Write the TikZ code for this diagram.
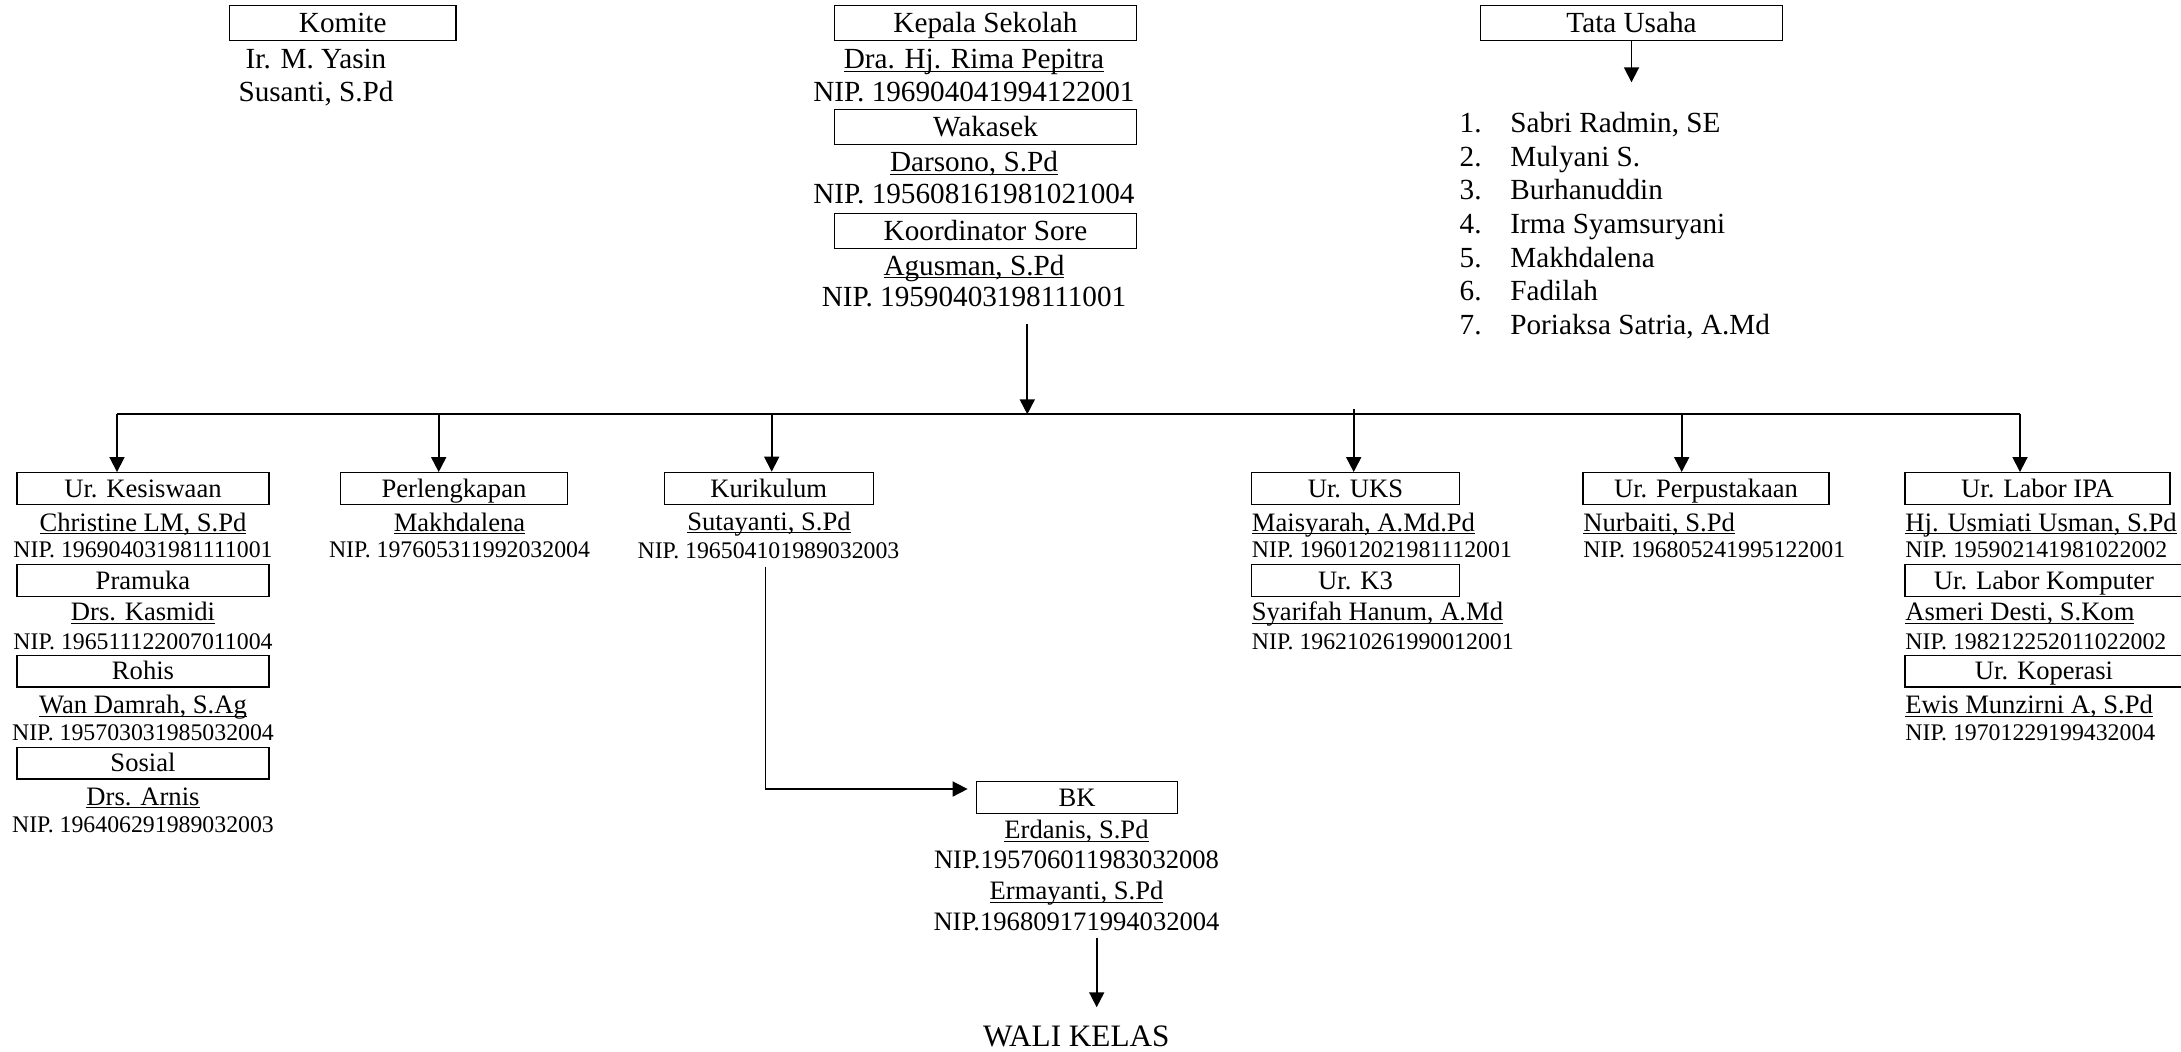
\documentclass[tikz,border=0pt]{standalone}
\usepackage{fontspec}
\setmainfont{Liberation Serif}
\usetikzlibrary{arrows.meta}
\newcommand{\garis}[1]{\underline{\smash{#1}}}

\begin{document}
\begin{tikzpicture}[x=0.5pt, y=-0.5pt,
		kotak/.style 2 args={draw, line width=0.65pt, inner sep=0pt, text depth=0pt, minimum width=#1, minimum height=#2},
		besar/.style={font=\fontsize{14.6pt}{17pt}\selectfont, text height=9.64pt},
		sedang/.style={font=\fontsize{13.3pt}{15pt}\selectfont, text height=8.78pt},
		kecil/.style={font=\fontsize{11.9pt}{14pt}\selectfont, text height=7.85pt},
		teks/.style={inner sep=0pt, anchor=base},
		tekskiri/.style={inner sep=0pt, anchor=base west},
		panah/.style={line width=0.9pt, -{Triangle[length=7.5pt, width=7.5pt]}}]
				\useasboundingbox (0,0) rectangle (2181,1051);
				
				% komite
				\node[kotak={113.25pt}{17.5pt}, besar] (komite) at (342.75,22.8) {Komite};
				\node[teks, besar] (komite1) at (316,68.3) {Ir. M. Yasin};
				\node[teks, besar] (komite2) at (316,101) {Susanti, S.Pd};
				
				% kepala sekolah, wakasek, koordinator
				\node[kotak={151.25pt}{17.5pt}, besar] (kepsek) at (985.5,22.8) {Kepala Sekolah};
				\node[teks, besar] (kepsekNama) at (974,68.3) {\garis{Dra. Hj. Rima Pepitra}};
				\node[teks, besar] (kepsekNip) at (974,101) {NIP. 196904041994122001};
				\node[kotak={151.25pt}{17.5pt}, besar] (wakasek) at (985.5,126.8) {Wakasek};
				\node[teks, besar] (wakasekNama) at (974,171.7) {\garis{Darsono, S.Pd}};
				\node[teks, besar] (wakasekNip) at (974,203.3) {NIP. 195608161981021004};
				\node[kotak={151.25pt}{17.3pt}, besar] (koord) at (985.5,231) {Koordinator Sore};
				\node[teks, besar] (koordNama) at (974,275) {\garis{Agusman, S.Pd}};
				\node[teks, besar] (koordNip) at (974,306.7) {NIP. 19590403198111001};
				
				% tata usaha
				\node[kotak={151.2pt}{17.5pt}, besar] (tu) at (1631.5,22.8) {Tata Usaha};
				\coordinate (tuUjung) at (1631.5,82.3);
				\draw[panah] (tu) -- (tuUjung);
				\foreach \i/\nama in {1/{Sabri Radmin, SE}, 2/{Mulyani S.}, 3/{Burhanuddin}, 4/{Irma Syamsuryani}, 5/{Makhdalena}, 6/{Fadilah}, 7/{Poriaksa Satria, A.Md}}{
					\node[tekskiri, besar] (tuNo\i) at (1459.3,{132.7+33.6*(\i-1)}) {\i.};
					\node[tekskiri, besar] (tuNama\i) at (1510,{132.7+33.6*(\i-1)}) {\nama};
				}
				
				% ur. kesiswaan dan kegiatan
				\node[kotak={126pt}{15.8pt}, sedang] (kesiswaan) at (143,488.5) {Ur. Kesiswaan};
				\node[teks, sedang] (kesiswaanNama) at (143,531) {\garis{Christine LM, S.Pd}};
				\node[teks, kecil] (kesiswaanNip) at (143,557.7) {NIP. 196904031981111001};
				\node[kotak={126pt}{15.8pt}, sedang] (pramuka) at (143,580.5) {Pramuka};
				\node[teks, sedang] (pramukaNama) at (143,620.7) {\garis{Drs. Kasmidi}};
				\node[teks, kecil] (pramukaNip) at (143,649.3) {NIP. 196511122007011004};
				\node[kotak={126pt}{15.8pt}, sedang] (rohis) at (143,671.2) {Rohis};
				\node[teks, sedang] (rohisNama) at (143,713.3) {\garis{Wan Damrah, S.Ag}};
				\node[teks, kecil] (rohisNip) at (143,740.7) {NIP. 195703031985032004};
				\node[kotak={126pt}{15.8pt}, sedang] (sosial) at (143,763.2) {Sosial};
				\node[teks, sedang] (sosialNama) at (143,805) {\garis{Drs. Arnis}};
				\node[teks, kecil] (sosialNip) at (143,832.7) {NIP. 196406291989032003};
				
				% perlengkapan
				\node[kotak={113.5pt}{15.8pt}, sedang] (perlengkapan) at (454,488.5) {Perlengkapan};
				\node[teks, sedang] (perlengkapanNama) at (459.5,531) {\garis{Makhdalena}};
				\node[teks, kecil] (perlengkapanNip) at (459.5,557.7) {NIP. 197605311992032004};
				
				% kurikulum
				\node[kotak={104.5pt}{16pt}, sedang] (kurikulum) at (768.8,488.3) {Kurikulum};
				\node[teks, sedang] (kurikulumNama) at (769,530) {\garis{Sutayanti, S.Pd}};
				\node[teks, kecil] (kurikulumNip) at (768.5,558) {NIP. 196504101989032003};
				
				% uks dan k3
				\node[kotak={104pt}{15.8pt}, sedang] (uks) at (1355.5,488.5) {Ur. UKS};
				\node[tekskiri, sedang] (uksNama) at (1251.5,531) {\garis{Maisyarah, A.Md.Pd}};
				\node[tekskiri, kecil] (uksNip) at (1251.5,557.7) {NIP. 196012021981112001};
				\node[kotak={104pt}{15.8pt}, sedang] (k3) at (1355.5,580.5) {Ur. K3};
				\node[tekskiri, sedang] (k3Nama) at (1251.5,620.7) {\garis{Syarifah Hanum, A.Md}};
				\node[tekskiri, kecil] (k3Nip) at (1251.5,649.3) {NIP. 196210261990012001};
				
				% perpustakaan
				\node[kotak={123pt}{15.8pt}, sedang] (perpus) at (1706,488.5) {Ur. Perpustakaan};
				\node[tekskiri, sedang] (perpusNama) at (1583,531) {\garis{Nurbaiti, S.Pd}};
				\node[tekskiri, kecil] (perpusNip) at (1583,557.7) {NIP. 196805241995122001};
				
				% labor dan koperasi
				\node[kotak={132.5pt}{15.8pt}, sedang] (ipa) at (2037.5,488.5) {Ur. Labor IPA};
				\node[tekskiri, sedang] (ipaNama) at (1905,531) {\garis{Hj. Usmiati Usman, S.Pd}};
				\node[tekskiri, kecil] (ipaNip) at (1905,557.7) {NIP. 195902141981022002};
				\node[kotak={139pt}{15.8pt}, sedang] (komputer) at (2044,580.5) {Ur. Labor Komputer};
				\node[tekskiri, sedang] (komputerNama) at (1905,620.7) {\garis{Asmeri Desti, S.Kom}};
				\node[tekskiri, kecil] (komputerNip) at (1905,649.3) {NIP. 198212252011022002};
				\node[kotak={139pt}{15.8pt}, sedang] (koperasi) at (2044,671.2) {Ur. Koperasi};
				\node[tekskiri, sedang] (koperasiNama) at (1905,713.3) {\garis{Ewis Munzirni A, S.Pd}};
				\node[tekskiri, kecil] (koperasiNip) at (1905,740.7) {NIP. 19701229199432004};
				
				% bk dan wali kelas
				\node[kotak={100.7pt}{16pt}, sedang] (bk) at (1077,797.3) {BK};
				\node[teks, sedang] (bkNama1) at (1076.5,838.3) {\garis{Erdanis, S.Pd}};
				\node[teks, sedang] (bkNip1) at (1076.5,868.3) {NIP.195706011983032008};
				\node[teks, sedang] (bkNama2) at (1076.5,899.3) {\garis{Ermayanti, S.Pd}};
				\node[teks, sedang] (bkNip2) at (1076.5,930) {NIP.196809171994032004};
				\node[teks, font=\fontsize{15.6pt}{18pt}\selectfont] (wali) at (1076.3,1046.7) {WALI KELAS};
				
				% garis cabang
				\coordinate (pusat) at (1027.3,324.3);
				\coordinate (busL) at (117,414.3);
				\coordinate (busR) at (2020,414.3);
				\draw[panah] (pusat) -- (pusat |- busL);
				\draw[line width=1pt] (busL) -- (busR);
				\foreach \x/\n in {117/kesiswaan, 438.7/perlengkapan, 771.7/kurikulum, 1681.7/perpus, 2020/ipa}{
					\coordinate (cab) at (\x,414.3);
					\draw[panah] (cab) -- (cab |- \n.north);
				}
				\coordinate (cabUks) at (1353.7,409);
				\draw[panah] (cabUks) -- (cabUks |- uks.north);
				
				% kurikulum ke bk, bk ke wali kelas
				\coordinate (kurBawah) at (765.3,566.7);
				\draw[panah, line width=0.8pt, shorten >=4pt] (kurBawah) |- ([yshift=4.15pt]bk.west);
				\coordinate (bkBawah) at (1096.7,937.7);
				\draw[panah, shorten >=9.2pt] (bkBawah) -- (bkBawah |- wali.north);
				
			\end{tikzpicture}
\end{document}
